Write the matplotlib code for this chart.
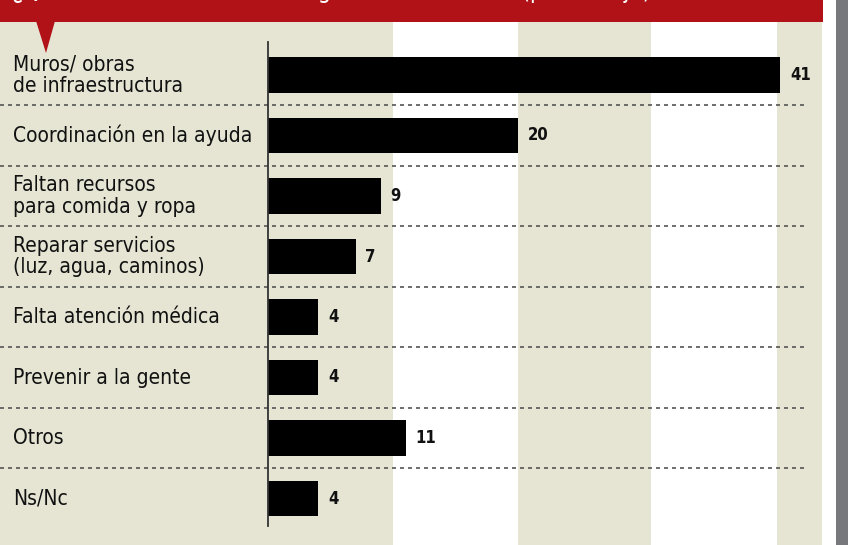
import matplotlib
matplotlib.use("Agg")
import matplotlib.pyplot as plt
from matplotlib.patches import Polygon, Rectangle

# data
categories = [
    "Muros/ obras\nde infraestructura",
    "Coordinación en la ayuda",
    "Faltan recursos\npara comida y ropa",
    "Reparar servicios\n(luz, agua, caminos)",
    "Falta atención médica",
    "Prevenir a la gente",
    "Otros",
    "Ns/Nc",
]
values = [41, 20, 9, 7, 4, 4, 11, 4]
title = "¿Qué se necesita con más urgencia en la zona? (porcentaje)"

RED = "#b01218"
BEIGE = "#e6e5d4"
GRAY = "#77787c"

# pixel layout helpers: x=268px is value 0, 12.5 px per point; rows 60.5 px apart
W, H = 848, 545
X0, XS = 268, 12.5
Y0, YS = 75, 60.5


def X(px):
    return (px - X0) / XS


def Y(py):
    return (py - Y0) / YS


fig = plt.figure(figsize=(W / 100, H / 100), dpi=100)
ax = fig.add_axes([0, 0, 1, 1])
ax.set_xlim(X(0), X(W))
ax.set_ylim(Y(H), Y(0))
ax.axis("off")

font = ["DejaVu Sans"]

# background bands
ax.add_patch(Rectangle((X(0), Y(22)), X(822) - X(0), Y(H) - Y(22), color=BEIGE, lw=0, zorder=0))
for a, b in [(10, 20), (X(651), X(777))]:
    ax.add_patch(Rectangle((a, Y(22)), b - a, Y(H) - Y(22), color="white", lw=0, zorder=0.5))
ax.add_patch(Rectangle((X(836), Y(0)), X(W) - X(836), Y(H) - Y(0), color=GRAY, lw=0, zorder=0))

# red banner with pointer (title runs off the top like in the print)
ax.add_patch(Rectangle((X(0), Y(0)), X(823) - X(0), Y(22) - Y(0), color=RED, lw=0, zorder=3))
ax.add_patch(Polygon([(X(36), Y(21)), (X(55), Y(21)), (X(46), Y(53))], closed=True, color=RED, lw=0, zorder=3))
ax.text(X(12), Y(-2), title, color="white", fontsize=17, family=font, stretch="condensed",
        ha="left", va="baseline", zorder=4, clip_on=False)

rows = list(range(len(categories)))

# separators
for i in rows[:-1]:
    ax.plot([X(0), X(808)], [i + 0.5, i + 0.5], color="#555555", lw=1.2,
            linestyle=(0, (2.4, 2.4)), zorder=1)

ax.barh(rows, values, height=0.58, color="black", zorder=2)
ax.plot([0, 0], [Y(42), Y(526)], color="#333333", lw=1.3, zorder=3)

for i, (cat, v) in enumerate(zip(categories, values)):
    ax.text(X(13), i, cat, fontsize=15, family=font, stretch="condensed", color="#111111",
            ha="left", va="center", linespacing=1.12, zorder=3)
    ax.text(v + X(X0 + 10), i, str(v), fontsize=12, family=font, stretch="condensed",
            weight="bold", color="#111111", ha="left", va="center", zorder=3)

fig.savefig("out.png", dpi=100)
